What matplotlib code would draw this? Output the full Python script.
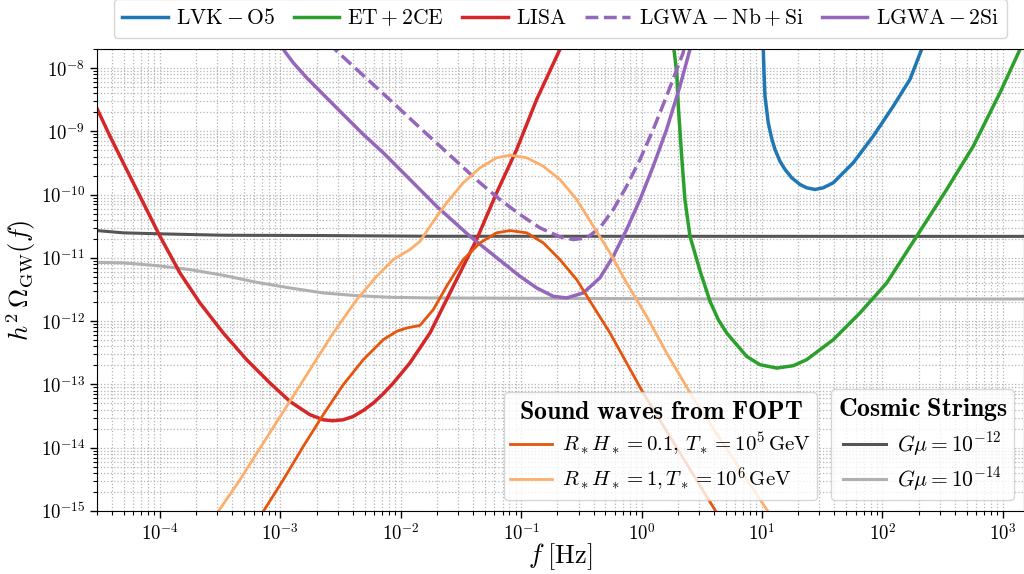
import numpy as np
from matplotlib import pyplot as plt
from matplotlib.ticker import LogLocator, FuncFormatter, NullFormatter

plt.rcParams['mathtext.fontset'] = 'cm'
plt.rcParams['font.family'] = 'DejaVu Serif'

# curve: log10(f/Hz) e log10(h^2 Omega_GW)
lvk_logf = [1.008, 1.011, 1.017, 1.025, 1.052, 1.079, 1.108, 1.149, 1.191, 1.247, 1.316, 1.371, 1.440, 1.509,
            1.592, 1.758, 1.924, 2.091, 2.229, 2.326, 2.36]
lvk_logom = [-7.3, -7.704, -8.073, -8.443, -8.864, -9.101, -9.286, -9.472, -9.601, -9.734, -9.840, -9.892, -9.919,
             -9.892, -9.813, -9.497, -9.076, -8.601, -8.179, -7.704, -7.3]

et_logf = [0.25, 0.269, 0.292, 0.305, 0.333, 0.360, 0.402, 0.485, 0.568, 0.637, 0.707, 0.873, 0.983, 1.122,
           1.260, 1.371, 1.592, 1.814, 2.036, 2.285, 2.534, 2.755, 2.977, 3.143, 3.2]
et_logom = [-7.3, -7.704, -8.073, -8.601, -9.392, -10.078, -10.658, -11.202, -11.684, -11.976,
            -12.187, -12.557, -12.688, -12.741, -12.704, -12.609, -12.293, -11.870, -11.396, -10.658, -9.919,
            -9.234, -8.389, -7.704, -7.45]

lisa_logf = [-4.526, -4.415, -4.305, -4.166, -4.000, -3.834, -3.668, -3.474, -3.280, -3.086, -2.920, -2.837,
             -2.754, -2.644, -2.561, -2.478, -2.395, -2.311, -2.228, -2.145, -2.062, -1.924, -1.757, -1.564,
             -1.370, -1.204, -1.037, -0.871, -0.678, -0.62]
lisa_logom = [-8.627, -9.076, -9.497, -10.025, -10.658, -11.237, -11.712, -12.187, -12.609, -12.978, -13.269,
              -13.374, -13.479, -13.559, -13.574, -13.559, -13.506, -13.411, -13.294, -13.147, -12.978, -12.661,
              -12.187, -11.449, -10.710, -9.972, -9.286, -8.495, -7.704, -7.45]

lgwa_nbsi_logf = [-2.6, -2.532, -2.366, -2.200, -2.034, -1.841, -1.674, -1.508, -1.342, -1.176, -1.010, -0.844,
                  -0.678, -0.567, -0.456, -0.346, -0.235, -0.124, -0.013, 0.097, 0.208, 0.346, 0.37]
lgwa_nbsi_logom = [-7.6, -7.731, -8.021, -8.310, -8.601, -8.943, -9.234, -9.524, -9.813, -10.078, -10.315, -10.525,
                   -10.668, -10.710, -10.684, -10.525, -10.236, -9.867, -9.445, -8.970, -8.443, -7.756, -7.4]

lgwa_2si_logf = [-3.0, -2.976, -2.893, -2.782, -2.644, -2.478, -2.311, -2.145, -1.979, -1.841, -1.702, -1.564,
                 -1.425, -1.287, -1.149, -1.010, -0.871, -0.733, -0.622, -0.484, -0.346, -0.235, -0.124, -0.013,
                 0.097, 0.208, 0.319, 0.402, 0.43]
lgwa_2si_logom = [-7.4, -7.704, -7.915, -8.152, -8.416, -8.733, -9.049, -9.339, -9.655, -9.919, -10.184, -10.421,
                  -10.658, -10.869, -11.079, -11.291, -11.475, -11.608, -11.633, -11.554, -11.316, -10.975,
                  -10.552, -10.078, -9.551, -8.970, -8.285, -7.704, -7.35]

# onde sonore da FOPT
sw1_logf = [-3.2, -3.142, -2.976, -2.810, -2.644, -2.478, -2.311, -2.145, -2.034, -1.951, -1.841, -1.730, -1.619,
            -1.481, -1.342, -1.204, -1.093, -0.954, -0.816, -0.678, -0.539, -0.401, -0.262, -0.124, 0.014, 0.609, 0.65]
sw1_logom = [-15.2, -15.009, -14.508, -13.981, -13.479, -13.005, -12.609, -12.293, -12.161, -12.108, -12.068,
             -11.818, -11.449, -11.027, -10.763, -10.604, -10.568, -10.604, -10.763, -11.027, -11.343, -11.766,
             -12.187, -12.661, -13.136, -14.983, -15.1]

sw2_logf = [-3.56, -3.516, -3.336, -3.142, -2.948, -2.754, -2.561, -2.366, -2.200, -2.062, -1.924, -1.841, -1.730,
            -1.619, -1.481, -1.342, -1.204, -1.093, -0.954, -0.816, -0.678, -0.539, -0.401, -0.262, -0.124, 0.042,
            0.208, 0.429, 1.041, 1.08]
sw2_logom = [-15.15, -15.009, -14.508, -13.927, -13.348, -12.767, -12.187, -11.660, -11.291, -11.027, -10.869,
             -10.740, -10.426, -10.130, -9.813, -9.576, -9.418, -9.377, -9.418, -9.551, -9.761, -10.078, -10.500,
             -10.921, -11.396, -11.924, -12.503, -13.215, -14.983, -15.1]

# cosmic strings
cs12_logf = [-4.526, -4.305, -4.0, -3.477, -2.646, -1.757, 3.2]
cs12_logom = [-10.568, -10.604, -10.620, -10.642, -10.647, -10.658, -10.66]

cs14_logf = [-4.526, -4.305, -4.027, -3.751, -3.474, -3.197, -2.920, -2.644, -2.366, -2.090, -1.757, 0.651, 3.2]
cs14_logom = [-11.070, -11.079, -11.122, -11.185, -11.275, -11.386, -11.475, -11.554, -11.597, -11.623, -11.633,
              -11.649, -11.65]


def curva(logf, logom):
    return np.power(10.0, logf), np.power(10.0, logom)


fig = plt.figure(figsize=(10.24, 5.74), dpi=100)
ax = fig.add_axes([0.0947, 0.1098, 0.9053, 0.8048])

#linee delle cosmic strings
l_cs12, = ax.plot(*curva(cs12_logf, cs12_logom), color='#555555', lw=2.2)
l_cs14, = ax.plot(*curva(cs14_logf, cs14_logom), color='#b0b0b0', lw=2.2)

#curve dei rivelatori
l_lvk, = ax.plot(*curva(lvk_logf, lvk_logom), color='#1f77b4', lw=2.5)
l_et, = ax.plot(*curva(et_logf, et_logom), color='#2ca02c', lw=2.5)
l_lisa, = ax.plot(*curva(lisa_logf, lisa_logom), color='#d62728', lw=2.5)
l_nbsi, = ax.plot(*curva(lgwa_nbsi_logf, lgwa_nbsi_logom), color='#9467bd', lw=2.5, ls='--')
l_2si, = ax.plot(*curva(lgwa_2si_logf, lgwa_2si_logom), color='#9467bd', lw=2.5)

#segnali FOPT
l_sw1, = ax.plot(*curva(sw1_logf, sw1_logom), color='#e6550d', lw=2)
l_sw2, = ax.plot(*curva(sw2_logf, sw2_logom), color='#fdae6b', lw=2)

ax.set_xscale('log')
ax.set_yscale('log')
ax.set_xlim(3e-5, 1.5e3)
ax.set_ylim(1e-15, 2e-8)

fmt = FuncFormatter(lambda v, p: r'$10^{%d}$' % int(round(np.log10(v))))
for axis in (ax.xaxis, ax.yaxis):
    axis.set_major_locator(LogLocator(base=10, numticks=30))
    axis.set_minor_locator(LogLocator(base=10, subs=np.arange(2, 10), numticks=200))
    axis.set_major_formatter(fmt)
    axis.set_minor_formatter(NullFormatter())
ax.tick_params(which='major', labelsize=13.5, length=5, width=1)
ax.tick_params(which='minor', length=3, width=0.8)

ax.grid(which='both', ls=':', color='#b5b5b5', lw=0.9)

ax.set_xlabel(r'$f\;[\mathrm{Hz}]$', fontsize=19)
ax.xaxis.set_label_coords(0.5, -0.066)
ax.set_ylabel(r'$h^2\,\Omega_{\rm GW}(f)$', fontsize=19, labelpad=2)

leg_top = ax.legend([l_lvk, l_et, l_lisa, l_nbsi, l_2si],
                    [r'$\mathrm{LVK-O5}$', r'$\mathrm{ET+2CE}$', r'$\mathrm{LISA}$',
                     r'$\mathrm{LGWA-Nb+Si}$', r'$\mathrm{LGWA-2Si}$'],
                    loc='lower center', bbox_to_anchor=(0.5, 1.024), borderaxespad=0, ncol=5, fontsize=15.5,
                    handlelength=2.1, handletextpad=0.4, columnspacing=0.85)
ax.add_artist(leg_top)

leg_sw = ax.legend([l_sw1, l_sw2],
                   [r'$R_*H_* = 0.1,\, T_* = 10^5\,\mathrm{GeV}$', r'$R_*H_* = 1, T_* = 10^6\,\mathrm{GeV}$'],
                   title=r'$\mathbf{Sound\ waves\ from\ FOPT}$', loc='lower right',
                   bbox_to_anchor=(0.777, 0.024), borderaxespad=0, fontsize=15, title_fontsize=18.5,
                   handletextpad=0.5, labelspacing=0.35, borderpad=0.3)
ax.add_artist(leg_sw)

leg_cs = ax.legend([l_cs12, l_cs14], [r'$G\mu = 10^{-12}$', r'$G\mu = 10^{-14}$'],
                   title=r'$\mathbf{Cosmic\ Strings}$', loc='lower right',
                   bbox_to_anchor=(0.989, 0.024), borderaxespad=0, fontsize=15.5, title_fontsize=18.5,
                   handletextpad=0.5, labelspacing=0.35, borderpad=0.3)

plt.savefig('out.png', dpi=100)
